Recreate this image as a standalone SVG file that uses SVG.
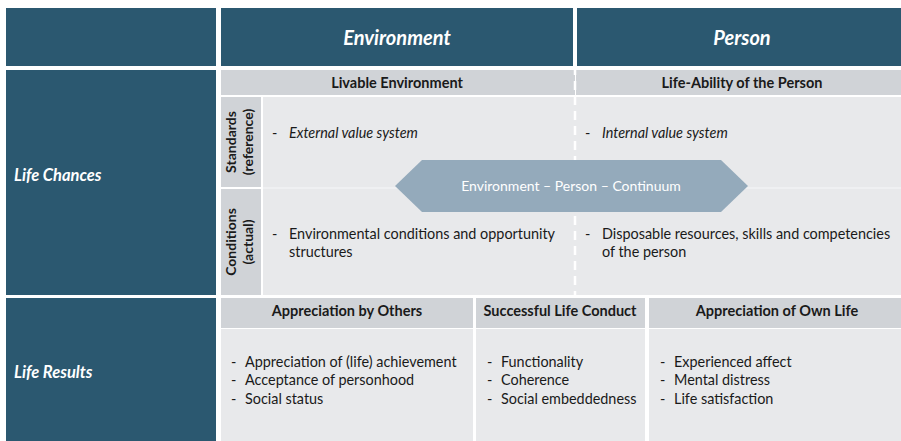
<svg xmlns="http://www.w3.org/2000/svg" width="901" height="441" viewBox="0 0 901 441">
  <style>
    .dark { fill: #2b5870; }
    .head { fill: #d0d3d7; }
    .body { fill: #e8e9eb; }
    text { font-family: Lato, "Open Sans", "Liberation Sans", sans-serif; }
    .title { font-size: 20px; font-weight: bold; font-style: italic; fill: #ffffff; text-anchor: middle; }
    .rowlabel { font-size: 16.5px; font-weight: bold; font-style: italic; fill: #ffffff; }
    .colhead { font-size: 14.5px; font-weight: bold; fill: #1a1a1a; text-anchor: middle; }
    .side { font-size: 14px; font-weight: bold; fill: #1a1a1a; text-anchor: middle; }
    .item { font-size: 14.4px; fill: #1a1a1a; }
    .it { font-style: italic; }
    .arrowtext { font-size: 14px; fill: #ffffff; text-anchor: middle; }
  </style>
  <rect width="901" height="441" fill="#ffffff"/>

  <!-- header row -->
  <g id="corner"><rect class="dark" x="6" y="8" width="210" height="58"/></g>
  <g id="environment">
    <rect class="dark" x="221" y="8" width="352" height="58"/>
    <text class="title" x="397" y="45">Environment</text>
  </g>
  <g id="person">
    <rect class="dark" x="577" y="8" width="324" height="58"/>
    <text class="title" x="742" y="45">Person</text>
  </g>

  <!-- life chances row -->
  <g id="life-chances">
    <rect class="dark" x="6" y="70" width="210" height="225"/>
    <text class="rowlabel" x="14" y="181">Life Chances</text>
  </g>
  <g id="livable-environment">
    <rect class="head" x="221" y="70" width="354" height="25"/>
    <text class="colhead" x="397" y="88">Livable Environment</text>
  </g>
  <g id="life-ability">
    <rect class="head" x="576" y="70" width="325" height="25"/>
    <text class="colhead" x="742" y="88">Life-Ability of the Person</text>
  </g>
  <g id="chances-body">
    <rect class="body" x="263" y="97" width="638" height="198"/>
    <line x1="263" y1="188" x2="901" y2="188" stroke="#f2f2f4" stroke-width="1.5"/>
  </g>
  <g id="standards">
    <rect class="head" x="221" y="97" width="40" height="90"/>
    <text class="side" transform="translate(236 142) rotate(-90)">Standards</text>
    <text class="side" transform="translate(253 142) rotate(-90)">(reference)</text>
  </g>
  <g id="conditions">
    <rect class="head" x="221" y="189" width="40" height="106"/>
    <text class="side" transform="translate(236 242) rotate(-90)">Conditions</text>
    <text class="side" transform="translate(253 242) rotate(-90)">(actual)</text>
  </g>
  <g id="standards-items">
    <text class="item" x="272" y="138">-</text>
    <text class="item it" x="289" y="138">External value system</text>
    <text class="item" x="585" y="138">-</text>
    <text class="item it" x="602" y="138">Internal value system</text>
  </g>
  <g id="conditions-items">
    <text class="item" x="272" y="239">-</text>
    <text class="item" x="289" y="239">Environmental conditions and opportunity</text>
    <text class="item" x="289" y="257">structures</text>
    <text class="item" x="585" y="239">-</text>
    <text class="item" x="602" y="239">Disposable resources, skills and competencies</text>
    <text class="item" x="602" y="257">of the person</text>
  </g>

  <!-- divider and continuum arrow -->
  <g id="connectors">
    <line x1="575" y1="66" x2="575" y2="298" stroke="#ffffff" stroke-width="2.5" stroke-dasharray="9 6"/>
    <polygon points="395,186 422,160 721,160 748,186 721,212 422,212" fill="#94aabb"/>
    <text class="arrowtext" x="571" y="191">Environment – Person – Continuum</text>
  </g>

  <!-- life results row -->
  <g id="life-results">
    <rect class="dark" x="6" y="298" width="210" height="143"/>
    <text class="rowlabel" x="14" y="378">Life Results</text>
  </g>
  <g id="appreciation-by-others">
    <rect class="head" x="221" y="298" width="252" height="30"/>
    <rect class="body" x="221" y="329" width="252" height="112"/>
    <text class="colhead" x="347" y="316">Appreciation by Others</text>
    <text class="item" x="231" y="367">-</text>
    <text class="item" x="245" y="367">Appreciation of (life) achievement</text>
    <text class="item" x="231" y="385">-</text>
    <text class="item" x="245" y="385">Acceptance of personhood</text>
    <text class="item" x="231" y="404">-</text>
    <text class="item" x="245" y="404">Social status</text>
  </g>
  <g id="successful-life-conduct">
    <rect class="head" x="476" y="298" width="169" height="30"/>
    <rect class="body" x="476" y="329" width="169" height="112"/>
    <text class="colhead" x="560" y="316">Successful Life Conduct</text>
    <text class="item" x="487" y="367">-</text>
    <text class="item" x="501" y="367">Functionality</text>
    <text class="item" x="487" y="385">-</text>
    <text class="item" x="501" y="385">Coherence</text>
    <text class="item" x="487" y="404">-</text>
    <text class="item" x="501" y="404">Social embeddedness</text>
  </g>
  <g id="appreciation-of-own-life">
    <rect class="head" x="649" y="298" width="252" height="30"/>
    <rect class="body" x="649" y="329" width="252" height="112"/>
    <text class="colhead" x="777" y="316">Appreciation of Own Life</text>
    <text class="item" x="660" y="367">-</text>
    <text class="item" x="674" y="367">Experienced affect</text>
    <text class="item" x="660" y="385">-</text>
    <text class="item" x="674" y="385">Mental distress</text>
    <text class="item" x="660" y="404">-</text>
    <text class="item" x="674" y="404">Life satisfaction</text>
  </g>
</svg>
